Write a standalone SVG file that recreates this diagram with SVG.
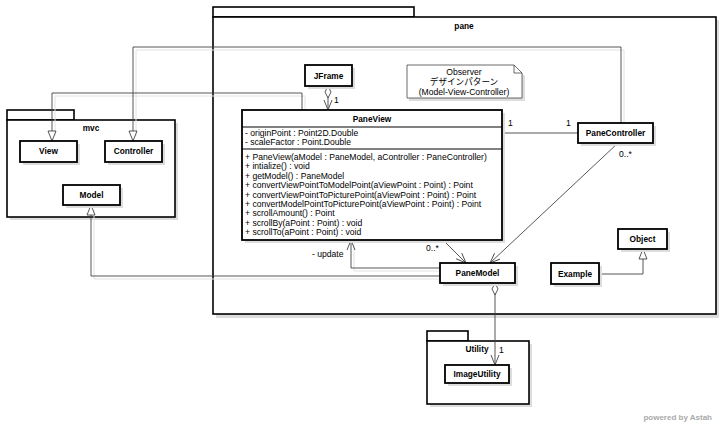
<svg xmlns="http://www.w3.org/2000/svg" width="722" height="424" viewBox="0 0 722 424">
<defs>
<style>
text{font-family:"Liberation Sans","Noto Sans CJK JP",sans-serif;font-size:8.6px;fill:#000}
.b{font-weight:bold;font-size:8.3px}
.c{text-anchor:middle}
.box{fill:#fff;stroke:#000;stroke-width:1.8}
.pkg{fill:#fff;stroke:#000;stroke-width:1.6}
.sh{fill:#ddd;stroke:none}
.ln{fill:none;stroke:#444;stroke-width:0.9}
.lsh{fill:none;stroke:#e2e2e2;stroke-width:1}
.sep{stroke:#000;stroke-width:1}
</style>
<marker id="tri" viewBox="0 0 12 10" refX="11" refY="5" markerWidth="12" markerHeight="10" markerUnits="userSpaceOnUse" orient="auto"><path d="M1,1 L11,5 L1,9 Z" fill="#fff" stroke="#444" stroke-width="0.9"/></marker>
<marker id="open" viewBox="0 0 12 10" refX="11" refY="5" markerWidth="12" markerHeight="10" markerUnits="userSpaceOnUse" orient="auto"><path d="M1,1 L11,5 L1,9" fill="none" stroke="#444" stroke-width="0.9"/></marker>
<marker id="dia" viewBox="0 0 14 8" refX="1" refY="4" markerWidth="14" markerHeight="8" markerUnits="userSpaceOnUse" orient="auto"><path d="M1,4 L7,1 L13,4 L7,7 Z" fill="#fff" stroke="#444" stroke-width="0.9"/></marker>
</defs>
<rect width="722" height="424" fill="#fff"/>

<g id="pkg-pane">
<rect class="sh" x="216" y="20" width="503" height="298"/>
<rect class="pkg" x="213" y="7" width="201" height="10"/>
<rect class="pkg" x="213" y="17" width="503" height="297"/>
<text class="b c" x="464" y="29">pane</text>
</g>

<g id="pkg-mvc">
<rect class="sh" x="10" y="123" width="168" height="97"/>
<rect class="pkg" x="7" y="110" width="67" height="10"/>
<rect class="pkg" x="7" y="120" width="168" height="97"/>
<text class="b c" x="91" y="131">mvc</text>
</g>

<g id="pkg-utility">
<rect class="sh" x="430" y="344" width="102" height="63"/>
<rect class="pkg" x="427" y="331" width="41" height="10"/>
<rect class="pkg" x="427" y="341" width="102" height="63"/>
<text class="b c" x="477" y="352">Utility</text>
</g>

<g id="connectors">
<polyline class="lsh" points="624,126 624,50 136,50 136,136"/>
<polyline class="lsh" points="305,113 305,96 55,96 55,136"/>
<polyline class="lsh" points="94,210 94,279 441,279"/>
<polyline class="lsh" points="441,271 354,271 354,244"/>
<polyline class="ln" points="621,123 621,47 133,47 133,141" marker-end="url(#tri)"/>
<polyline class="ln" points="302,110 302,93 52,93 52,141" marker-end="url(#tri)"/>
<polyline class="ln" points="440,276 91,276 91,205" marker-end="url(#tri)"/>
<polyline class="ln" points="440,268 351,268 351,240" marker-end="url(#open)"/>
<line class="ln" x1="328" y1="86" x2="328" y2="110" marker-start="url(#dia)" marker-end="url(#open)"/>
<line class="ln" x1="502" y1="133" x2="578" y2="133"/>
<line class="ln" x1="443" y1="240" x2="466" y2="263" marker-end="url(#open)"/>
<line class="ln" x1="618" y1="143" x2="490" y2="263" marker-end="url(#open)"/>
<polyline class="ln" points="599,274 643,274 643,249" marker-end="url(#tri)"/>
<line class="ln" x1="495" y1="283" x2="495" y2="365" marker-start="url(#dia)" marker-end="url(#open)"/>
<text x="334" y="103">1</text>
<text x="508" y="126">1</text>
<text x="566" y="126">1</text>
<text x="619" y="157">0..*</text>
<text x="426" y="251">0..*</text>
<text x="312" y="257">- update</text>
<text x="499" y="353">1</text>
</g>

<g id="note">
<path d="M409,68 L409,101 L525,101 L525,76 L517,68 Z" fill="#ddd"/>
<path d="M407,65 L407,98 L522,98 L522,73 L514,65 Z" fill="#fff" stroke="#444" stroke-width="0.8"/>
<path d="M514,65 L514,73 L522,73" fill="none" stroke="#444" stroke-width="0.8"/>
<text class="c" x="464" y="75">Observer</text>
<text class="c" x="464" y="85">デザインパターン</text>
<text class="c" x="464" y="95">(Model-View-Controller)</text>
</g>

<g id="JFrame">
<rect class="sh" x="308" y="68" width="47" height="21"/>
<rect class="box" x="305" y="65" width="47" height="21"/>
<text class="b c" x="328.5" y="78.5">JFrame</text>
</g>

<g id="View">
<rect class="sh" x="23" y="144" width="57" height="21"/>
<rect class="box" x="20" y="141" width="57" height="21"/>
<text class="b c" x="48.5" y="154">View</text>
</g>

<g id="Controller">
<rect class="sh" x="108" y="144" width="57" height="21"/>
<rect class="box" x="105" y="141" width="57" height="21"/>
<text class="b c" x="133.5" y="154">Controller</text>
</g>

<g id="Model">
<rect class="sh" x="66" y="188" width="57" height="20"/>
<rect class="box" x="63" y="185" width="57" height="20"/>
<text class="b c" x="91.5" y="198">Model</text>
</g>

<g id="PaneView">
<rect class="sh" x="245" y="113" width="260" height="130"/>
<rect class="box" x="242" y="110" width="260" height="130"/>
<line class="sep" x1="242" y1="127" x2="502" y2="127"/>
<line class="sep" x1="242" y1="149" x2="502" y2="149"/>
<text class="b c" x="372" y="122">PaneView</text>
<text x="245" y="136">- originPoint : Point2D.Double</text>
<text x="245" y="145">- scaleFactor : Point.Double</text>
<text x="245" y="160">+ PaneView(aModel : PaneModel, aController : PaneController)</text>
<text x="245" y="169.4">+ intialize() : void</text>
<text x="245" y="178.8">+ getModel() : PaneModel</text>
<text x="245" y="188.2">+ convertViewPointToModelPoint(aViewPoint : Point) : Point</text>
<text x="245" y="197.6">+ convertViewPointToPicturePoint(aViewPoint : Point) : Point</text>
<text x="245" y="207">+ convertModelPointToPicturePoint(aViewPoint : Point) : Point</text>
<text x="245" y="216.4">+ scrollAmount() : Point</text>
<text x="245" y="225.8">+ scrollBy(aPoint : Point) : void</text>
<text x="245" y="235.2">+ scrollTo(aPoint : Point) : void</text>
</g>

<g id="PaneController">
<rect class="sh" x="581" y="126" width="75" height="20"/>
<rect class="box" x="578" y="123" width="75" height="20"/>
<text class="b c" x="615.5" y="136">PaneController</text>
</g>

<g id="PaneModel">
<rect class="sh" x="443" y="266" width="75" height="20"/>
<rect class="box" x="440" y="263" width="75" height="20"/>
<text class="b c" x="477.5" y="276">PaneModel</text>
</g>

<g id="Object">
<rect class="sh" x="621" y="232" width="49" height="20"/>
<rect class="box" x="618" y="229" width="49" height="20"/>
<text class="b c" x="642.5" y="242">Object</text>
</g>

<g id="Example">
<rect class="sh" x="554" y="266" width="48" height="21"/>
<rect class="box" x="551" y="263" width="48" height="21"/>
<text class="b c" x="575" y="276.5">Example</text>
</g>

<g id="ImageUtility">
<rect class="sh" x="448" y="368" width="64" height="18"/>
<rect class="box" x="445" y="365" width="64" height="18"/>
<text class="b c" x="477" y="377">ImageUtility</text>
</g>

<text x="712" y="420" style="fill:#aaa;font-size:8px;font-weight:bold;text-anchor:end">powered by Astah</text>
</svg>
